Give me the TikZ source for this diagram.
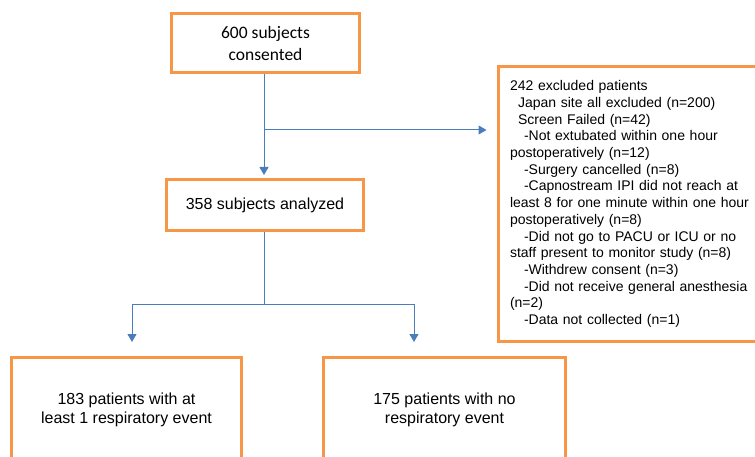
\documentclass[tikz,border=0pt]{standalone}
\usepackage{fontspec}
\setmainfont{Liberation Sans}
\newfontfamily\calibrifont{Carlito}
\usetikzlibrary{arrows.meta}
\definecolor{boxorange}{HTML}{F79646}
\definecolor{lineblue}{HTML}{4A7EBB}

\begin{document}
\begin{tikzpicture}[x=1pt,y=-1pt,
    >={Triangle[width=9pt,length=8pt]},
    flow/.style={draw=lineblue,line width=1pt},
    ]
    \tikzstyle{every node}=[inner sep=0pt]
    \tikzstyle{stage}=[draw=boxorange, line width=3pt, align=center]
    \clip (0,0) rectangle (755,457);
    \fill[white] (0,0) rectangle (755,457);
    % boxes
    \node[stage, minimum width=188pt, minimum height=59pt,
          font=\calibrifont\fontsize{17.5}{22}\selectfont] (consent) at (265.5,43) {600 subjects\\consented};
    \node[stage, minimum width=197pt, minimum height=51pt,
          font=\fontsize{16}{19}\selectfont] (analyzed) at (265,205) {358 subjects analyzed};
    \node[stage, minimum width=230pt, minimum height=105pt,
          font=\fontsize{16}{19}\selectfont] (event) at (126.5,410) {183 patients with at\\least 1 respiratory event};
    \node[stage, minimum width=242pt, minimum height=105pt,
          font=\fontsize{16}{18.5}\selectfont] (noevent) at (444.5,410) {175 patients with no\\respiratory event};
    \node[stage, anchor=west, align=left, text width=260pt, inner xsep=12pt,
          minimum height=275pt, font=\fontsize{14}{16.7}\selectfont] (excluded) at (496.5,204) {242 excluded patients\\
        \hspace*{8pt}Japan site all excluded (n=200)\\
        \hspace*{8pt}Screen Failed (n=42)\\
        \hspace*{14pt}-Not extubated within one hour\\
        postoperatively (n=12)\\
        \hspace*{14pt}-Surgery cancelled (n=8)\\
        \hspace*{14pt}-Capnostream IPI did not reach at\\
        least 8 for one minute within one hour\\
        postoperatively (n=8)\\
        \hspace*{14pt}-Did not go to PACU or ICU or no\\
        staff present to monitor study (n=8)\\
        \hspace*{14pt}-Withdrew consent (n=3)\\
        \hspace*{14pt}-Did not receive general anesthesia\\
        (n=2)\\
        \hspace*{14pt}-Data not collected (n=1)};
    % connectors
    \coordinate (split) at (264,130);
    \coordinate (fork) at (264,304);
    \coordinate (eventtip) at (132,342);
    \coordinate (noeventtip) at (414,342);
    \draw[flow,->,shorten >=3pt] (consent.south -| split) -- (analyzed.north -| split);
    \draw[flow,->,shorten >=10pt] (split) -- (split -| excluded.west);
    \draw[flow] (analyzed.south -| fork) -- (fork);
    \draw[flow,->] (fork) -| (eventtip);
    \draw[flow,->] (fork) -| (noeventtip);
\end{tikzpicture}
\end{document}
